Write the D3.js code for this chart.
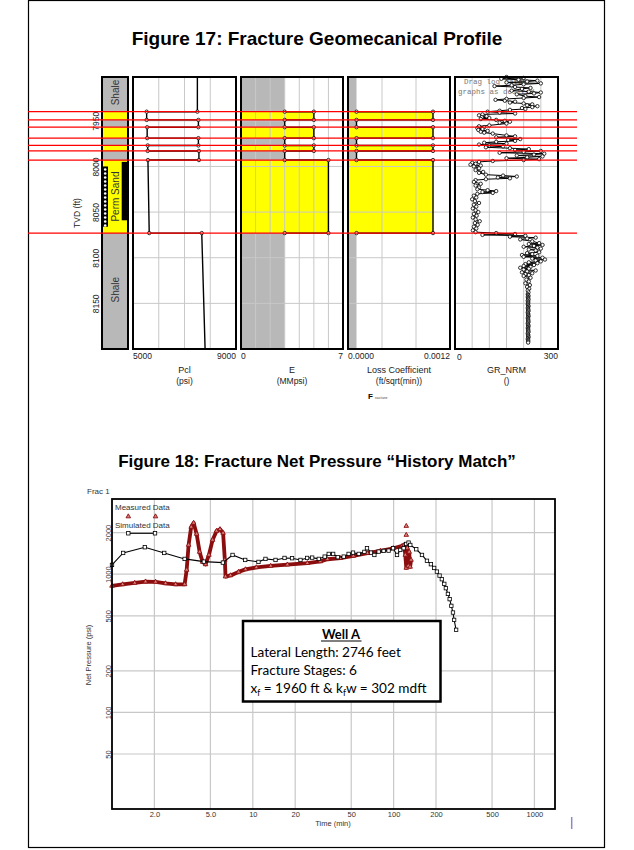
<!DOCTYPE html>
<html>
<head>
<meta charset="utf-8">
<script src="https://cdn.jsdelivr.net/npm/d3@7"></script>
<style>
body { margin: 0; background: #fff; }
svg { display: block; font-family: "Liberation Sans", Arial, sans-serif; }
</style>
</head>
<body>
<svg id="page" width="634" height="850"></svg>
<script>
// ---------- Figure 17 data ----------
var fig17Title = "Figure 17: Fracture Geomecanical Profile";
var layerTop = [7902, 7940, 7949, 7957, 7969, 7977, 7983, 7993, 8073];
var layerBottom = [7940, 7949, 7957, 7969, 7977, 7983, 7993, 8073, 8200];
var layerRock = ["Shale", "Sand", "Shale", "Sand", "Shale", "Sand", "Shale", "Sand", "Shale"];
var pclTop = [7500, 5530, 7540, 5550, 7540, 5570, 7560, 5580, 7670];
var pclBottom = [7500, 5530, 7540, 5550, 7540, 5570, 7560, 5630, 7800];
var modulusE = [3, 5, 3, 5, 3, 5, 3, 6, 3];
var lossCoef = [0.0001, 0.001, 0.0001, 0.001, 0.0001, 0.001, 0.0001, 0.001, 0.0001];
var depthTicks = [7950, 8000, 8050, 8100, 8150];

var grDepth = [
  7902, 7903, 7904, 7905, 7906, 7907, 7908, 7909, 7910, 7911,
  7912, 7913, 7914, 7915, 7917, 7918, 7919, 7920, 7921, 7923,
  7924, 7925, 7926, 7927, 7928, 7929, 7930, 7931, 7932, 7933,
  7934, 7935, 7936, 7937, 7938, 7939, 7940, 7941, 7942, 7943,
  7944, 7945, 7946, 7947, 7948, 7949, 7950, 7951, 7952, 7953,
  7955, 7956, 7957, 7958, 7959, 7960, 7961, 7962, 7963, 7964,
  7966, 7967, 7968, 7970, 7971, 7972, 7973, 7974, 7975, 7976,
  7977, 7978, 7979, 7980, 7981, 7982, 7983, 7984, 7985, 7986,
  7987, 7988, 7989, 7990, 7991, 7992, 7993, 7994, 7995, 7996,
  7997, 7998, 7999, 8000, 8002, 8004, 8006, 8007, 8009, 8010,
  8011, 8012, 8013, 8014, 8015, 8017, 8019, 8021, 8023, 8025,
  8026, 8027, 8028, 8029, 8030, 8032, 8034, 8036, 8038, 8040,
  8042, 8044, 8046, 8048, 8050, 8052, 8054, 8056, 8058, 8060,
  8062, 8064, 8066, 8068, 8070, 8072, 8073, 8074, 8075, 8076,
  8077, 8078, 8079, 8080, 8082, 8084, 8085, 8086, 8087, 8088,
  8089, 8090, 8091, 8092, 8094, 8095, 8096, 8097, 8098, 8099,
  8100, 8101, 8102, 8103, 8104, 8105, 8106, 8107, 8108, 8109,
  8110, 8111, 8112, 8113, 8114, 8115, 8116, 8117, 8118, 8119,
  8120, 8122, 8124, 8126, 8128, 8130, 8132, 8134, 8136, 8138,
  8140, 8141, 8142, 8143, 8144, 8145, 8146, 8147, 8148, 8149,
  8150, 8151, 8152, 8153, 8154, 8155, 8156, 8157, 8158, 8159,
  8160, 8161, 8162, 8163, 8164, 8165, 8166, 8167, 8168, 8169,
  8170, 8171, 8172, 8173, 8174, 8175, 8176, 8177, 8178, 8179,
  8180, 8181, 8182, 8183, 8184, 8185, 8186, 8187, 8188, 8189,
  8190, 8191, 8192, 8193
];
var grValue = [
  150, 200, 135, 185, 240, 210, 150, 250, 200, 165,
  115, 175, 220, 195, 165, 215, 250, 230, 180, 205,
  245, 200, 150, 118, 145, 175, 160, 200, 225, 210,
  240, 225, 195, 205, 160, 130, 95, 130, 175, 80,
  70, 92, 78, 100, 75, 120, 145, 160, 130, 150,
  100, 70, 85, 65, 80, 68, 95, 75, 85, 110,
  150, 175, 120, 190, 155, 175, 120, 85, 150, 70,
  100, 140, 90, 160, 215, 175, 250, 200, 130, 260,
  230, 180, 255, 210, 150, 245, 200, 110, 70, 50,
  60, 45, 75, 55, 70, 60, 82, 70, 90, 140,
  180, 125, 160, 90, 60, 55, 75, 60, 70, 65,
  95, 120, 80, 110, 65, 55, 62, 50, 58, 70,
  55, 62, 52, 60, 68, 55, 63, 52, 60, 72,
  58, 66, 55, 62, 52, 60, 120, 175, 80, 205,
  160, 235, 210, 190, 225, 245, 215, 255, 230, 200,
  240, 250, 215, 235, 245, 210, 225, 195, 240, 200,
  255, 225, 262, 235, 250, 215, 240, 205, 230, 200,
  220, 190, 215, 200, 235, 210, 195, 225, 205, 215,
  200, 220, 208, 215, 205, 218, 210, 216, 212, 214,
  212, 213, 214, 212, 213, 213, 214, 212, 213, 213,
  213, 212, 213, 214, 213, 212, 213, 213, 214, 213,
  212, 213, 213, 213, 214, 213, 212, 213, 213, 213,
  214, 213, 212, 213, 213, 214, 213, 212, 213, 213,
  213, 214, 213, 212, 213, 213, 213, 214, 213, 212,
  213, 213, 213, 213
];

// ---------- Figure 18 data ----------
var fig18Title = "Figure 18: Fracture Net Pressure \u201CHistory Match\u201D";
var timeTicks = [2, 5, 10, 20, 50, 100, 200, 500, 1000];
var timeTickLabels = ["2.0", "5.0", "10", "20", "50", "100", "200", "500", "1000"];
var pressTicks = [50, 100, 200, 500, 1000, 2000];

var simTime = [1.0, 1.2, 1.71, 2.35, 3.28, 4.49, 6.13, 7.18, 8.83, 10.97,
  12.3, 14.5, 16.8, 19.0, 21.8, 24.3, 26.4, 29.4, 32.4, 34.6,
  37.2, 40.1, 44.2, 47.9, 51.5, 56.5, 62, 64.7, 69.1, 73,
  78.3, 84.9, 92.1, 99, 105.7, 111.6, 117.8, 123, 127.7, 131.3,
  144.8, 159, 172.5, 184, 194, 203, 212, 220, 229, 235,
  243, 250, 257, 264, 269, 278];
var simPress = [1167, 1425, 1567, 1425, 1290, 1233, 1213, 1378, 1268, 1227,
  1290, 1268, 1311, 1305, 1268, 1311, 1318, 1290, 1340, 1402,
  1402, 1327, 1340, 1402, 1432, 1402, 1450, 1541, 1432, 1378,
  1457, 1474, 1481, 1541, 1378, 1498, 1541, 1655, 1692, 1628,
  1515, 1378, 1250, 1181, 1110, 1044, 977, 920, 851, 792,
  720, 660, 590, 528, 467, 396];

var measTime = [1.0, 1.19, 1.45, 1.73, 2.04, 2.4, 2.83, 3.28, 3.39, 3.5,
  3.65, 3.8, 3.99, 4.19, 4.4, 4.62, 4.88, 5.18, 5.53, 5.85,
  6.15, 6.33, 6.4, 6.95, 7.92, 8.88, 10.6, 13.4, 17.6, 24.4,
  30.2, 33.9, 41.9, 51.8, 65.1, 80.5, 99.5, 115, 119, 121,
  123, 125, 127, 129, 131, 133];
var measPress = [823, 844, 865, 884, 880, 858, 844, 844, 1074, 1628,
  2197, 2350, 1955, 1449, 1227, 1177, 1378, 1769, 2055, 2113,
  1988, 1268, 961, 980, 1039, 1083, 1120, 1148, 1173, 1201,
  1237, 1283, 1305, 1356, 1418, 1474, 1541, 1601, 1628, 1378,
  1110, 1548, 1148, 1450, 1130, 1268];
var spikeTime = [123, 123];
var spikePress = [2230, 1921];

var wellText = ["Lateral Length: 2746 feet", "Fracture Stages: 6"];

// ---------- page ----------
var svg = d3.select("#page");
var gridColor = "#c8c8c8";

svg.append("rect")
    .attr("x", 28.5).attr("y", 0.5)
    .attr("width", 576).attr("height", 847)
    .attr("fill", "none").attr("stroke", "#000").attr("stroke-width", 1.2);

svg.append("text")
    .attr("x", 317).attr("y", 45)
    .attr("text-anchor", "middle")
    .attr("font-size", "19px").attr("font-weight", "bold")
    .text(fig17Title);

// ---------- Figure 17 ----------
var yDepth = d3.scaleLinear().domain([7902, 8200]).range([77, 349]);
var tTop = yDepth.range()[0], tBot = yDepth.range()[1];

function rockColor(r) { return r == "Sand" ? "#ffff00" : "#b8b8b8"; }

function stepPoints(vTop, vBot, full) {
    var pts = [];
    for (var i = 0; i < layerTop.length; i++) {
        if (full || i > 0) pts.push([vTop[i], layerTop[i]]);
        if (full || i < layerTop.length - 1) pts.push([vBot[i], layerBottom[i]]);
    }
    return pts;
}

// lithology track
var lx0 = 102, lx1 = 128;
var lith = svg.append("g");
lith.selectAll("rect.layer")
    .data(layerTop)
    .enter().append("rect")
    .attr("class", "layer")
    .attr("x", lx0).attr("width", lx1 - lx0)
    .attr("y", function (d) { return yDepth(d); })
    .attr("height", function (d, i) { return yDepth(layerBottom[i]) - yDepth(d); })
    .attr("fill", function (d, i) { return rockColor(layerRock[i]); });

// perforation marks and pay bar in the thick sand
var perfTop = yDepth(8000), perfBot = yDepth(8066);
lith.append("rect").attr("x", 102.5).attr("y", perfTop).attr("width", 5.5).attr("height", perfBot - perfTop).attr("fill", "#000");
lith.selectAll("circle.perf")
    .data(d3.range(perfTop + 3, perfBot - 1, 4))
    .enter().append("circle")
    .attr("class", "perf")
    .attr("cx", 105.2).attr("cy", function (d) { return d; })
    .attr("r", 1.3).attr("fill", "#fff");
lith.append("rect").attr("x", 121.7).attr("y", yDepth(7995)).attr("width", 6).attr("height", yDepth(8059) - yDepth(7995)).attr("fill", "#000");

function lithLabel(text, depth) {
    lith.append("text")
        .attr("transform", "translate(119," + yDepth(depth) + ") rotate(-90)")
        .attr("text-anchor", "middle")
        .attr("font-size", "10px").attr("fill", "#333")
        .text(text);
}
lithLabel("Shale", 7919);
lithLabel("Perm Sand", 8033);
lithLabel("Shale", 8135);

lith.append("rect").attr("x", lx0).attr("y", tTop).attr("width", lx1 - lx0).attr("height", tBot - tTop)
    .attr("fill", "none").attr("stroke", "#000").attr("stroke-width", 2);

// depth axis
var depthAxis = svg.append("g")
    .attr("transform", "translate(99,0)")
    .call(d3.axisLeft(yDepth).tickValues(depthTicks).tickSize(0).tickFormat(d3.format("d")));
depthAxis.select(".domain").remove();
depthAxis.selectAll("text")
    .attr("x", 0).attr("dy", 0)
    .attr("transform", "rotate(-90)")
    .attr("text-anchor", "middle")
    .attr("font-size", "8.5px").attr("fill", "#222")
    .attr("font-family", "Liberation Sans, Arial, sans-serif");

svg.append("text")
    .attr("transform", "translate(80,213) rotate(-90)")
    .attr("text-anchor", "middle")
    .attr("font-size", "8.5px").attr("fill", "#222")
    .text("TVD (ft)");

// property tracks
var tracks = [
    { x0: 133, x1: 236, domain: [5000, 9000], grid: [6000, 7000, 8000], vTop: pclTop, vBot: pclBottom, fill: false, full: true, ends: ["5000", "9000"], name: "Pcl", unit: "(psi)" },
    { x0: 241, x1: 343, domain: [0, 7], grid: [1, 2, 3, 4, 5, 6], vTop: modulusE, vBot: modulusE, fill: true, full: false, ends: ["0", "7"], name: "E", unit: "(MMpsi)" },
    { x0: 348, x1: 450, domain: [0, 0.0012], grid: [0.0004, 0.0008], vTop: lossCoef, vBot: lossCoef, fill: true, full: false, ends: ["0.0000", "0.0012"], name: "Loss Coefficient", unit: "(ft/sqrt(min))" }
];

tracks.forEach(function (t) {
    var x = d3.scaleLinear().domain(t.domain).range([t.x0, t.x1]);
    var g = svg.append("g");
    g.append("rect").attr("x", t.x0).attr("y", tTop).attr("width", t.x1 - t.x0).attr("height", tBot - tTop).attr("fill", "#fff");
    if (t.fill) {
        g.selectAll("rect.fill")
            .data(layerTop)
            .enter().append("rect")
            .attr("class", "fill")
            .attr("x", t.x0)
            .attr("y", function (d) { return yDepth(d); })
            .attr("width", function (d, i) { return x(t.vTop[i]) - t.x0; })
            .attr("height", function (d, i) { return yDepth(layerBottom[i]) - yDepth(d); })
            .attr("fill", function (d, i) { return rockColor(layerRock[i]); });
    }
    g.selectAll("line.vg")
        .data(t.grid)
        .enter().append("line")
        .attr("x1", function (d) { return x(d); }).attr("x2", function (d) { return x(d); })
        .attr("y1", tTop).attr("y2", tBot)
        .attr("stroke", gridColor).attr("stroke-width", 1);
    g.selectAll("line.hg")
        .data(depthTicks)
        .enter().append("line")
        .attr("x1", t.x0).attr("x2", t.x1)
        .attr("y1", function (d) { return yDepth(d); }).attr("y2", function (d) { return yDepth(d); })
        .attr("stroke", gridColor).attr("stroke-width", 1);

    var pts = stepPoints(t.vTop, t.vBot, t.full);
    g.append("path")
        .attr("d", d3.line().x(function (p) { return x(p[0]); }).y(function (p) { return yDepth(p[1]); })(pts))
        .attr("fill", "none").attr("stroke", "#000").attr("stroke-width", 1.4);
    g.selectAll("circle.pt")
        .data(pts.filter(function (p) { return p[1] > 7902 && p[1] < 8200; }))
        .enter().append("circle")
        .attr("cx", function (p) { return x(p[0]); })
        .attr("cy", function (p) { return yDepth(p[1]); })
        .attr("r", 1.7).attr("fill", "#fff").attr("stroke", "#000").attr("stroke-width", 0.8);

    g.append("rect").attr("x", t.x0).attr("y", tTop).attr("width", t.x1 - t.x0).attr("height", tBot - tTop)
        .attr("fill", "none").attr("stroke", "#000").attr("stroke-width", 2);

    g.append("text").attr("x", t.x0).attr("y", 359).attr("font-size", "8.5px").attr("fill", "#222").text(t.ends[0]);
    g.append("text").attr("x", t.x1).attr("y", 359).attr("text-anchor", "end").attr("font-size", "8.5px").attr("fill", "#222").text(t.ends[1]);
    g.append("text").attr("x", (t.x0 + t.x1) / 2).attr("y", 373).attr("text-anchor", "middle").attr("font-size", "9px").attr("fill", "#222").text(t.name);
    g.append("text").attr("x", (t.x0 + t.x1) / 2).attr("y", 384).attr("text-anchor", "middle").attr("font-size", "8.5px").attr("fill", "#222").text(t.unit);
});

// gamma ray track
var gx0 = 455, gx1 = 558;
var xGr = d3.scaleLinear().domain([0, 300]).range([gx0, gx1]);
var gr = svg.append("g");
gr.append("rect").attr("x", gx0).attr("y", tTop).attr("width", gx1 - gx0).attr("height", tBot - tTop).attr("fill", "#fff");
gr.selectAll("line.vg")
    .data([50, 100, 150, 200, 250])
    .enter().append("line")
    .attr("x1", function (d) { return xGr(d); }).attr("x2", function (d) { return xGr(d); })
    .attr("y1", tTop).attr("y2", tBot)
    .attr("stroke", gridColor);
gr.selectAll("line.hg")
    .data(depthTicks)
    .enter().append("line")
    .attr("x1", gx0).attr("x2", gx1)
    .attr("y1", function (d) { return yDepth(d); }).attr("y2", function (d) { return yDepth(d); })
    .attr("stroke", gridColor);
gr.append("text").attr("x", 464).attr("y", 84).attr("font-family", "Liberation Mono, Courier New, monospace")
    .attr("font-size", "7.5px").attr("fill", "#777").text("Drag log data");
gr.append("text").attr("x", 458).attr("y", 94).attr("font-family", "Liberation Mono, Courier New, monospace")
    .attr("font-size", "7.5px").attr("fill", "#777").text("graphs as desired");
gr.append("path")
    .attr("d", d3.line().x(function (d, i) { return xGr(grValue[i]); }).y(function (d) { return yDepth(d); })(grDepth))
    .attr("fill", "none").attr("stroke", "#000").attr("stroke-width", 1);
gr.selectAll("circle.gr")
    .data(grDepth)
    .enter().append("circle")
    .attr("cx", function (d, i) { return xGr(grValue[i]); })
    .attr("cy", function (d) { return yDepth(d); })
    .attr("r", 1.7).attr("fill", "#fff").attr("stroke", "#000").attr("stroke-width", 0.8);
gr.append("rect").attr("x", gx0).attr("y", tTop).attr("width", gx1 - gx0).attr("height", tBot - tTop)
    .attr("fill", "none").attr("stroke", "#000").attr("stroke-width", 2);
gr.append("text").attr("x", gx0 + 2).attr("y", 360).attr("font-size", "8.5px").attr("fill", "#222").text("0");
gr.append("text").attr("x", gx1).attr("y", 359).attr("text-anchor", "end").attr("font-size", "8.5px").attr("fill", "#222").text("300");
gr.append("text").attr("x", (gx0 + gx1) / 2).attr("y", 373).attr("text-anchor", "middle").attr("font-size", "9px").attr("fill", "#222").text("GR_NRM");
gr.append("text").attr("x", (gx0 + gx1) / 2).attr("y", 384).attr("text-anchor", "middle").attr("font-size", "8.5px").attr("fill", "#222").text("()");

// boundary lines across the tracks
svg.selectAll("line.bound")
    .data(layerTop.slice(1))
    .enter().append("line")
    .attr("x1", 28).attr("x2", 577)
    .attr("y1", function (d) { return yDepth(d); }).attr("y2", function (d) { return yDepth(d); })
    .attr("stroke", "#ff0000").attr("stroke-width", 1.2);

svg.append("text").attr("x", 368).attr("y", 399).attr("font-size", "8px").attr("font-weight", "bold").text("F");
svg.append("text").attr("x", 375).attr("y", 399).attr("font-size", "4px").attr("fill", "#444").text("racture");

// ---------- Figure 18 ----------
svg.append("text")
    .attr("x", 317).attr("y", 467)
    .attr("text-anchor", "middle")
    .attr("font-size", "17px").attr("font-weight", "bold")
    .text(fig18Title);

svg.append("text").attr("x", 87).attr("y", 494).attr("font-size", "8px").attr("fill", "#333").text("Frac 1");

var px0 = 112, px1 = 555, py0 = 499, py1 = 809;
var xT = d3.scaleLog().domain([1, 1400]).range([px0, px1]);
var yP = d3.scaleLog().domain([20, 3500]).range([py1, py0]);

var plot = svg.append("g");
plot.selectAll("line.vg")
    .data(timeTicks)
    .enter().append("line")
    .attr("x1", function (d) { return xT(d); }).attr("x2", function (d) { return xT(d); })
    .attr("y1", py0).attr("y2", py1)
    .attr("stroke", gridColor).attr("stroke-width", 1.2);
plot.selectAll("line.hg")
    .data(pressTicks)
    .enter().append("line")
    .attr("x1", px0).attr("x2", px1)
    .attr("y1", function (d) { return yP(d); }).attr("y2", function (d) { return yP(d); })
    .attr("stroke", gridColor).attr("stroke-width", 1.2);

var xAxis = plot.append("g")
    .attr("transform", "translate(0," + py1 + ")")
    .call(d3.axisBottom(xT).tickValues(timeTicks).tickSize(0).tickPadding(3)
        .tickFormat(function (d, i) { return timeTickLabels[i]; }));
xAxis.select(".domain").remove();
xAxis.selectAll("text").attr("font-size", "7.5px").attr("fill", "#333").attr("font-family", "Liberation Sans, Arial, sans-serif");

var yAxis = plot.append("g")
    .attr("transform", "translate(" + (px0 - 1.5) + ",0)")
    .call(d3.axisLeft(yP).tickValues(pressTicks).tickSize(0).tickFormat(d3.format("d")));
yAxis.select(".domain").remove();
yAxis.selectAll("text")
    .attr("x", 0).attr("dy", 0)
    .attr("transform", "rotate(-90)")
    .attr("text-anchor", "middle")
    .attr("font-size", "7.5px").attr("fill", "#333")
    .attr("font-family", "Liberation Sans, Arial, sans-serif");

svg.append("text").attr("x", 333).attr("y", 826).attr("text-anchor", "middle").attr("font-size", "7.5px").attr("fill", "#333").text("Time (min)");
svg.append("text").attr("transform", "translate(91,655) rotate(-90)").attr("text-anchor", "middle")
    .attr("font-size", "7.5px").attr("fill", "#333").text("Net Pressure (psi)");

// measured data
var measColor = "#8b0d0d";
plot.append("path")
    .attr("d", d3.line().x(function (d) { return xT(d); }).y(function (d, i) { return yP(measPress[i]); })(measTime))
    .attr("fill", "none").attr("stroke", measColor).attr("stroke-width", 3.8)
    .attr("stroke-linejoin", "round");
var tri = d3.symbol().type(d3.symbolTriangle).size(9);
plot.selectAll("path.meas")
    .data(measTime.concat(spikeTime))
    .enter().append("path")
    .attr("class", "meas")
    .attr("d", tri)
    .attr("transform", function (d, i) {
        var p = i < measPress.length ? measPress[i] : spikePress[i - measPress.length];
        return "translate(" + xT(d) + "," + yP(p) + ")";
    })
    .attr("fill", "#d98080").attr("stroke", measColor).attr("stroke-width", 0.9);

// simulated data
plot.append("path")
    .attr("d", d3.line().x(function (d) { return xT(d); }).y(function (d, i) { return yP(simPress[i]); })(simTime))
    .attr("fill", "none").attr("stroke", "#000").attr("stroke-width", 1.1);
plot.selectAll("rect.sim")
    .data(simTime)
    .enter().append("rect")
    .attr("class", "sim")
    .attr("x", function (d) { return xT(d) - 1.7; })
    .attr("y", function (d, i) { return yP(simPress[i]) - 1.7; })
    .attr("width", 3.4).attr("height", 3.4)
    .attr("fill", "#fff").attr("stroke", "#000").attr("stroke-width", 0.8);

plot.append("rect").attr("x", px0).attr("y", py0).attr("width", px1 - px0).attr("height", py1 - py0)
    .attr("fill", "none").attr("stroke", "#000").attr("stroke-width", 1.8);

// legend
var leg = svg.append("g");
leg.append("text").attr("x", 115).attr("y", 510).attr("font-size", "8px").attr("fill", "#333").text("Measured Data");
[128.3, 155.5].forEach(function (lx) {
    leg.append("path").attr("d", tri).attr("transform", "translate(" + lx + ",516.5)")
        .attr("fill", "#d98080").attr("stroke", measColor).attr("stroke-width", 0.9);
});
leg.append("text").attr("x", 115).attr("y", 528).attr("font-size", "8px").attr("fill", "#333").text("Simulated Data");
leg.append("line").attr("x1", 128.3).attr("x2", 155).attr("y1", 533.3).attr("y2", 533.3).attr("stroke", "#000").attr("stroke-width", 1.1);
[128.3, 155].forEach(function (lx) {
    leg.append("rect").attr("x", lx - 1.7).attr("y", 531.6).attr("width", 3.4).attr("height", 3.4)
        .attr("fill", "#fff").attr("stroke", "#000").attr("stroke-width", 0.8);
});

// well annotation box
var box = svg.append("g").attr("font-family", "Lato, 'Open Sans', sans-serif");
box.append("rect").attr("x", 243).attr("y", 621).attr("width", 197.5).attr("height", 80.5)
    .attr("fill", "#fff").attr("stroke", "#000").attr("stroke-width", 2.5);
box.append("text").attr("x", 341).attr("y", 638.5).attr("text-anchor", "middle")
    .attr("font-size", "13px").attr("font-weight", "bold").text("Well A");
box.append("line").attr("x1", 321).attr("x2", 361.5).attr("y1", 641).attr("y2", 641).attr("stroke", "#000").attr("stroke-width", 1.1);
box.append("text").attr("x", 250.5).attr("y", 656.7).attr("font-size", "13.6px").text(wellText[0]);
box.append("text").attr("x", 250.5).attr("y", 675).attr("font-size", "13.6px").text(wellText[1]);
var xf = box.append("text").attr("x", 250.5).attr("y", 692.7).attr("font-size", "13.6px");
xf.append("tspan").text("x");
xf.append("tspan").attr("font-size", "8.5px").attr("dy", 3).text("f");
xf.append("tspan").attr("dy", -3).text(" = 1960 ft & k");
xf.append("tspan").attr("font-size", "8.5px").attr("dy", 3).text("f");
xf.append("tspan").attr("dy", -3).text("w = 302 mdft");

// cursor mark at the foot of the page
svg.append("line").attr("x1", 571.7).attr("x2", 571.7).attr("y1", 817).attr("y2", 829)
    .attr("stroke", "#8a8ac8").attr("stroke-width", 1.5);
</script>
</body>
</html>
